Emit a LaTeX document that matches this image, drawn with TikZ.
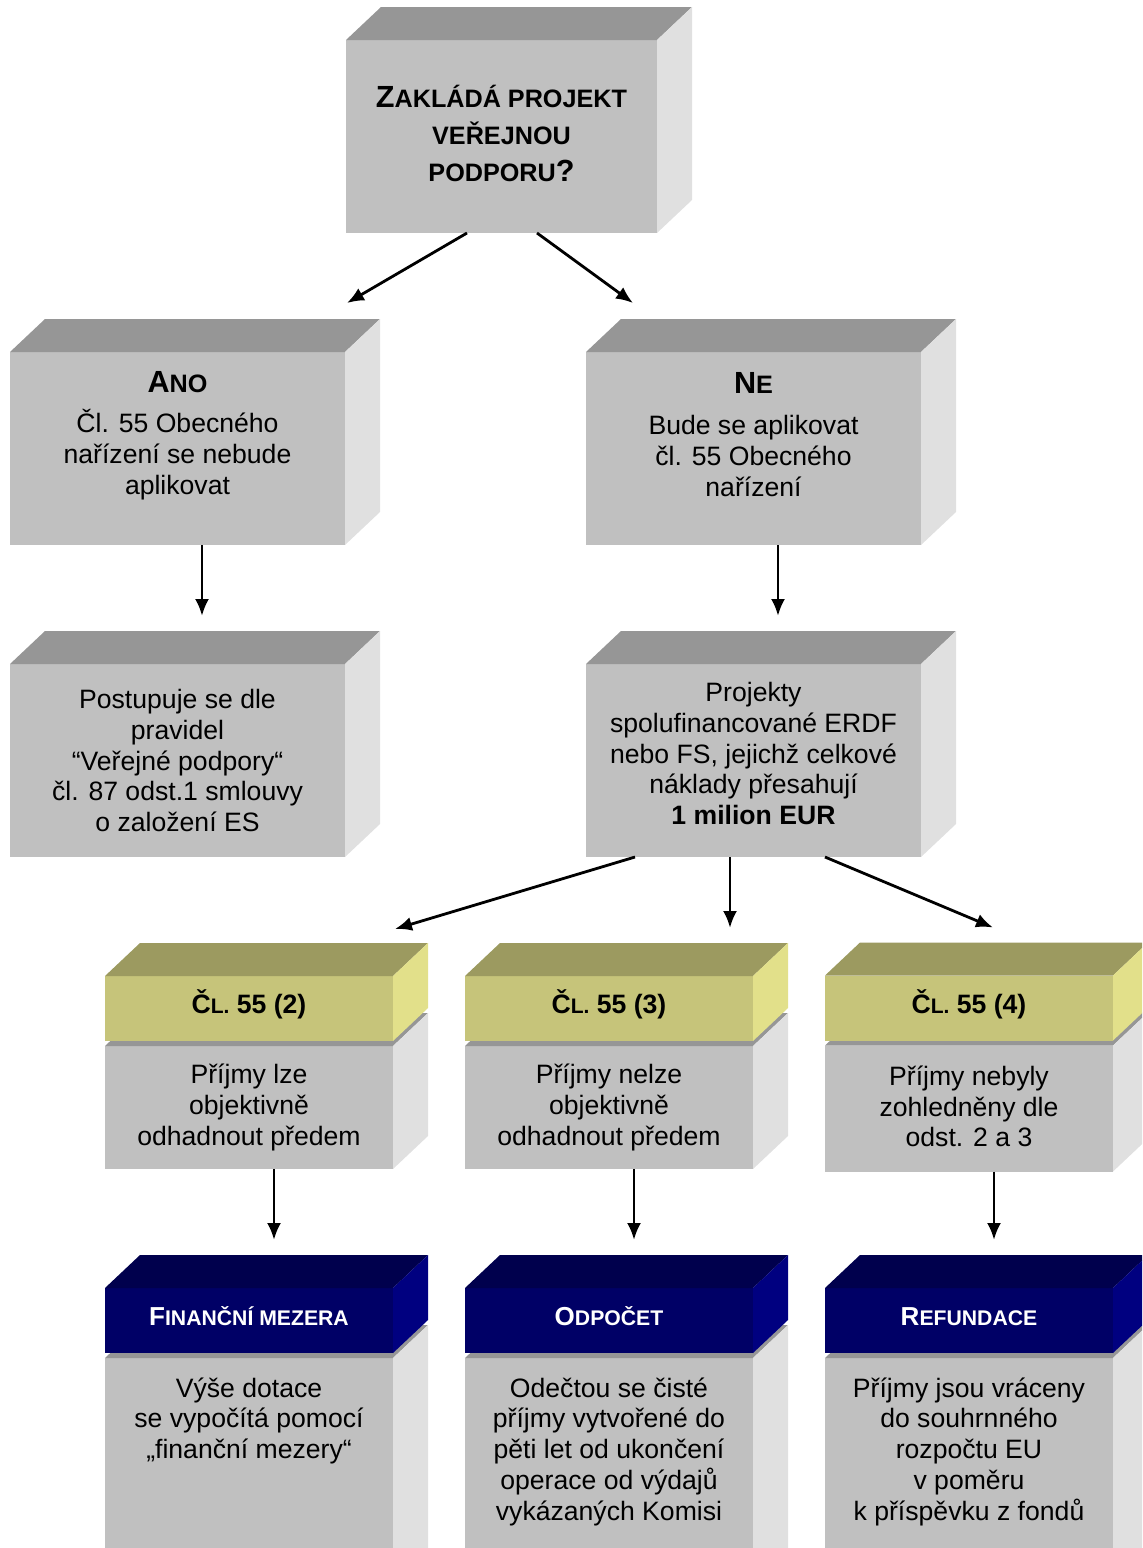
\documentclass[tikz,border=0pt]{standalone}
\usepackage{fontspec}
\setmainfont{Liberation Sans}
\usetikzlibrary{positioning, arrows.meta, calc}

\definecolor{sedaCelo}{HTML}{C0C0C0}
\definecolor{sedaVrsek}{HTML}{969696}
\definecolor{sedaBok}{HTML}{E0E0E0}
\definecolor{zlutaCelo}{HTML}{C6C47A}
\definecolor{zlutaVrsek}{HTML}{9C9A60}
\definecolor{zlutaBok}{HTML}{E2E08A}
\definecolor{modraCelo}{HTML}{000066}
\definecolor{modraVrsek}{HTML}{00004D}
\definecolor{modraBok}{HTML}{000080}

% larger and smaller letters for the headings
\newcommand{\velke}[2][15.3]{{\fontsize{#1}{0}\selectfont #2}}
\newcommand{\mala}[2][12.6]{{\fontsize{#1}{0}\selectfont #2}}

% top and side face of a block, #1 is the front face node
\newcommand{\kvadr}[3]{%
  \fill[#2] (#1.north west) -- ++(35,-33) -- ($(#1.north east)+(35,-33)$) -- (#1.north east) -- cycle;
  \fill[#3] (#1.north east) -- ++(35,-33) -- ($(#1.south east)+(35,-33)$) -- (#1.south east) -- cycle;
}

\tikzset{
>={Latex[length=8.5pt,width=7pt]}, % filled arrow heads
sipka/.style={->, line width=1.4pt},
celo/.style={inner sep=0pt, outer sep=0pt, fill=sedaCelo}, % front face of a block
zluta/.style={celo, fill=zlutaCelo},
modra/.style={celo, fill=modraCelo},
txt/.style={align=center, inner sep=0pt, font=\fontsize{13.3}{15.4}\selectfont},
}

\begin{document}
\begin{tikzpicture}[x=0.5pt, y=-0.5pt]
\useasboundingbox (0,0) rectangle (1142,1548);
\clip (0,0) rectangle (1142,1548);

% question
\node[celo, minimum width=155.5pt, minimum height=96.5pt] (vrchol) at (501.5,136.5) {};
\kvadr{vrchol}{sedaVrsek}{sedaBok}
\node[txt, font=\bfseries\fontsize{12.6}{18.5}\selectfont, yshift=1.5pt] (vrcholt) at (vrchol)
  {\velke{Z}AKLÁDÁ PROJEKT\\VEŘEJNOU\\PODPORU\velke{?}};

% yes / no
\node[celo, minimum width=167.5pt, minimum height=96.5pt] (ano) at (177.5,448.5) {};
\kvadr{ano}{sedaVrsek}{sedaBok}
\node[txt, yshift=6.5pt] (anot) at (ano)
  {\textbf{\velke{A}\mala{NO}}\\[5pt]Čl. 55 Obecného\\nařízení se nebude\\aplikovat};

\node[celo, minimum width=167.5pt, minimum height=96.5pt] (ne) at (753.5,448.5) {};
\kvadr{ne}{sedaVrsek}{sedaBok}
\node[txt, yshift=7pt] (net) at (ne)
  {\textbf{\velke{N}\mala{E}}\\[5pt]Bude se aplikovat\\čl. 55 Obecného\\nařízení};

\node[celo, minimum width=167.5pt, minimum height=96.5pt] (post) at (177.5,760.5) {};
\kvadr{post}{sedaVrsek}{sedaBok}
\node[txt] (postt) at (post)
  {Postupuje se dle\\pravidel\\“Veřejné podpory“\\čl. 87 odst.1 smlouvy\\o založení ES};

\node[celo, minimum width=167.5pt, minimum height=96.5pt] (proj) at (753.5,760.5) {};
\kvadr{proj}{sedaVrsek}{sedaBok}
\node[txt, yshift=3.5pt] (projt) at (proj)
  {Projekty\\spolufinancované ERDF\\nebo FS, jejichž celkové\\náklady přesahují\\\textbf{1 milion EUR}};

% article 55 paragraphs
\node[celo, minimum width=144pt, minimum height=61.5pt] (t1) at (249,1107.5) {};
\kvadr{t1}{sedaVrsek}{sedaBok}
\node[zluta, minimum width=144pt, minimum height=32.5pt, above=2.5pt of t1] (c1) {};
\kvadr{c1}{zlutaVrsek}{zlutaBok}

\node[celo, minimum width=144pt, minimum height=61.5pt] (t2) at (609,1107.5) {};
\kvadr{t2}{sedaVrsek}{sedaBok}
\node[zluta, minimum width=144pt, minimum height=32.5pt, above=2.5pt of t2] (c2) {};
\kvadr{c2}{zlutaVrsek}{zlutaBok}

\node[celo, minimum width=144pt, minimum height=63pt] (t3) at (969,1108.5) {};
\kvadr{t3}{sedaVrsek}{sedaBok}
\node[zluta, minimum width=144pt, minimum height=32.5pt, above=2.5pt of t3] (c3) {};
\kvadr{c3}{zlutaVrsek}{zlutaBok}

\node[txt, yshift=2pt] (c1t) at (c1) {\bfseries Č\mala[10.5]{L.} 55 (2)};
\node[txt, yshift=2pt] (c2t) at (c2) {\bfseries Č\mala[10.5]{L.} 55 (3)};
\node[txt, yshift=2pt] (c3t) at (c3) {\bfseries Č\mala[10.5]{L.} 55 (4)};
\node[txt] (t1t) at (t1) {Příjmy lze\\objektivně\\odhadnout předem};
\node[txt] (t2t) at (t2) {Příjmy nelze\\objektivně\\odhadnout předem};
\node[txt, yshift=1pt] (t3t) at (t3) {Příjmy nebyly\\zohledněny dle\\odst. 2 a 3};

% methods
\node[celo, minimum width=144pt, minimum height=130pt] (b1) at (249,1488) {};
\kvadr{b1}{sedaVrsek}{sedaBok}
\node[modra, minimum width=144pt, minimum height=32.5pt, above=2.5pt of b1] (f1) {};
\kvadr{f1}{modraVrsek}{modraBok}

\node[celo, minimum width=144pt, minimum height=130pt] (b2) at (609,1488) {};
\kvadr{b2}{sedaVrsek}{sedaBok}
\node[modra, minimum width=144pt, minimum height=32.5pt, above=2.5pt of b2] (f2) {};
\kvadr{f2}{modraVrsek}{modraBok}

\node[celo, minimum width=144pt, minimum height=130pt] (b3) at (969,1488) {};
\kvadr{b3}{sedaVrsek}{sedaBok}
\node[modra, minimum width=144pt, minimum height=32.5pt, above=2.5pt of b3] (f3) {};
\kvadr{f3}{modraVrsek}{modraBok}

\node[txt, text=white, yshift=2pt] (f1t) at (f1) {\bfseries\velke[13]{F}\mala[10.6]{INANČNÍ MEZERA}};
\node[txt, text=white, yshift=2pt] (f2t) at (f2) {\bfseries\velke[13]{O}\mala[10.6]{DPOČET}};
\node[txt, text=white, yshift=2pt] (f3t) at (f3) {\bfseries\velke[13]{R}\mala[10.6]{EFUNDACE}};
\node[txt, below=9.5pt of b1.north] (b1t) {Výše dotace\\se vypočítá pomocí\\„finanční mezery“};
\node[txt, below=9.5pt of b2.north] (b2t) {Odečtou se čisté\\příjmy vytvořené do\\pěti let od ukončení\\operace od výdajů\\vykázaných Komisi};
\node[txt, below=9.5pt of b3.north] (b3t) {Příjmy jsou vráceny\\do souhrnného\\rozpočtu EU\\v poměru\\k příspěvku z fondů};

% arrows
\draw[sipka] ([xshift=-17.25pt]vrchol.south) -- ([shift={(1pt,24.5pt)}]ano.north east);
\draw[sipka] ([xshift=17.75pt]vrchol.south) -- ([shift={(23.5pt,24.5pt)}]ne.north west);
\draw[sipka] ([xshift=12.25pt]ano.south) -- ([shift={(12.25pt,24pt)}]post.north);
\draw[sipka] ([xshift=12.25pt]ne.south) -- ([shift={(12.25pt,24pt)}]proj.north);
\draw[sipka] ([xshift=-59.25pt]proj.south) -- ([shift={(1pt,23.5pt)}]c1.north east);
\draw[sipka] ([xshift=-11.75pt]proj.south) -- ([shift={(60.5pt,24pt)}]c2.north);
\draw[sipka] ([xshift=35.75pt]proj.south) -- ([shift={(12pt,24pt)}]c3.north);
\draw[sipka] ([xshift=12.5pt]t1.south) -- ([shift={(12.5pt,24pt)}]f1.north);
\draw[sipka] ([xshift=12.5pt]t2.south) -- ([shift={(12.5pt,24pt)}]f2.north);
\draw[sipka] ([xshift=12.5pt]t3.south) -- ([shift={(12.5pt,24pt)}]f3.north);
\end{tikzpicture}
\end{document}
